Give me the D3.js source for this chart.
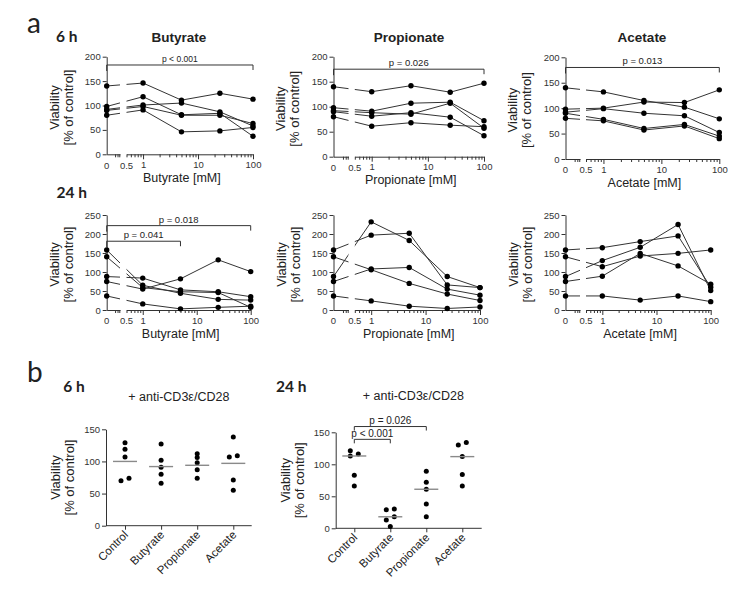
<!DOCTYPE html>
<html><head><meta charset="utf-8">
<script src="https://cdn.jsdelivr.net/npm/d3@7"></script>
<style>body{margin:0;background:#fff} svg{display:block}</style>
</head><body>
<svg id="c" width="756" height="594"></svg>
<script>
// ---------- DATA ----------
const doses = [0, 1, 5, 25, 100];
const butyrate6h   = [[140,146,111,125,113],[98,118,81,84,37],[92,101,105,87,58],[90,98,80,80,63],[80,91,46,48,55]];
const propionate6h = [[140,130,142,129,147],[98,91,107,109,72],[92,88,85,107,57],[90,81,88,79,42],[80,61,68,63,60]];
const acetate6h    = [[140,132,115,102,79],[98,100,112,111,136],[92,99,90,85,52],[90,78,60,68,45],[80,75,57,65,40]];
const butyrate24h  = [[88,84,53,48,35],[158,65,44,28,26],[140,59,48,46,7],[75,55,82,132,101],[37,16,3,7,10]];
const propionate24h= [[88,232,183,88,59],[158,197,202,66,59],[75,108,112,55,39],[140,106,70,42,25],[37,24,10,4,8]];
const acetate24h   = [[158,164,180,195,60],[140,114,142,149,158],[88,130,165,225,51],[75,89,149,116,68],[37,37,26,37,22]];
const yTicks6h = [0,50,100,150,200];
const yTicks24h = [0,50,100,150,200,250];
const xMajorTicks = [1,10,100];
const xMinorTicks = [0.5,0.6,0.7,0.8,0.9,2,3,4,5,6,7,8,9,20,30,40,50,60,70,80,90];
const compounds = ["Butyrate","Propionate","Acetate"];
const categories = ["Control","Butyrate","Propionate","Acetate"];
const stim6h  = [[129,119,107,74,70],[127,102,91,80,66],[112,106,98,87,74],[138,109,107,71,55]];
const stim24h = [[121,116,113,83,66],[30,29,18,13,3],[89,72,61,38,18],[134,130,112,84,66]];
const median6h = [100,92,94,97];
const median24h = [113,18,61,112];
const yTicksStim = [0,50,100,150];
// p-value brackets: [fromDose, toDose, level, label]
const pButyrate6h = [[0,100,183,"p < 0.001"]];
const pPropionate6h = [[0,100,175,"p = 0.026"]];
const pAcetate6h = [[0,100,180,"p = 0.013"]];
const pButyrate24h = [[0,100,222,"p = 0.018"],[0,5,181,"p = 0.041"]];
const pStim24h = [["Control","Propionate",159,"p = 0.026"],["Control","Butyrate",139,"p < 0.001"]];

// ---------- LAYOUT ----------
const FONT = "'Liberation Sans', Arial, sans-serif";
const HFONT = "Lato, 'Open Sans', sans-serif";
const INK = "#222", AX = "#333";
const cols = [
  {zero:106.7, segEnd:120, x05:126.5, cx:179},
  {zero:333.5, segEnd:348.5, x05:354.8, cx:409},
  {zero:565.5, segEnd:580, x05:586, cx:642}
];
const panels = [
  {data:butyrate6h, col:0, name:"Butyrate", x100:253, y0:154.3, yTop:56.7, ymax:200, ticks:yTicks6h, p:pButyrate6h, pfs:8.5},
  {data:propionate6h, col:1, name:"Propionate", x100:484, y0:156.7, yTop:56.7, ymax:200, ticks:yTicks6h, p:pPropionate6h, pfs:9.5},
  {data:acetate6h, col:2, name:"Acetate", x100:719.3, y0:159, yTop:57.3, ymax:200, ticks:yTicks6h, p:pAcetate6h, pfs:9.5},
  {data:butyrate24h, col:0, name:"Butyrate", x100:250.7, y0:310, yTop:215, ymax:250, ticks:yTicks24h, p:pButyrate24h, pfs:9.5},
  {data:propionate24h, col:1, name:"Propionate", x100:480, y0:310, yTop:215, ymax:250, ticks:yTicks24h, p:[], pfs:9.5},
  {data:acetate24h, col:2, name:"Acetate", x100:710.7, y0:310, yTop:215, ymax:250, ticks:yTicks24h, p:[], pfs:9.5}
];

const svg = d3.select("#c");
function txt(x, y, s, o = {}) {
  const t = svg.append("text").attr("x", x).attr("y", y).text(s)
    .attr("font-family", o.ff || FONT).attr("font-size", o.fs || 10)
    .attr("font-weight", o.fw || "normal").attr("fill", o.fill || INK)
    .attr("text-anchor", o.anchor || "start");
  if (o.rot !== undefined) t.attr("transform", `rotate(${o.rot},${x},${y})`);
  return t;
}
function styleAxis(g, fs) {
  g.selectAll("path,line").attr("stroke", AX).attr("stroke-width", 1);
  g.selectAll("text").attr("font-family", FONT).attr("font-size", fs).attr("fill", "#333");
}

// headings
txt(27, 33.3, "a", {ff:HFONT, fs:28});
txt(56, 41.7, "6 h", {ff:HFONT, fs:15.5, fw:"bold"});
txt(56.5, 198, "24 h", {ff:HFONT, fs:15.5, fw:"bold"});
compounds.forEach((c, i) => txt(cols[i].cx, 41.7, c, {fs:13.5, fw:"bold", anchor:"middle"}));

panels.forEach((p, idx) => {
  const c = cols[p.col];
  const xLog = d3.scaleLog().domain([0.5, 100]).range([c.x05, p.x100]);
  const xs = d => d === 0 ? c.zero : xLog(d);
  const y = d3.scaleLinear().domain([0, p.ymax]).range([p.y0, p.yTop]);

  // y axis
  const ya = svg.append("g").attr("transform", `translate(${c.zero},0)`)
    .call(d3.axisLeft(y).tickValues(p.ticks).tickSize(4).tickSizeOuter(0).tickPadding(2));
  styleAxis(ya, 9.5);
  // x axis: sub-0.5 segment
  const xSub = d3.scaleLog().domain([0.05, 0.45]).range([c.zero, c.segEnd]);
  const xa0 = svg.append("g").attr("transform", `translate(0,${p.y0})`)
    .call(d3.axisBottom(xSub).tickValues([0.2,0.3,0.4]).tickSize(3).tickSizeOuter(0).tickFormat(""));
  styleAxis(xa0, 9.5);
  const xa1 = svg.append("g").attr("transform", `translate(0,${p.y0})`)
    .call(d3.axisBottom(xLog).tickValues(xMinorTicks).tickSize(3).tickSizeOuter(0).tickFormat(""));
  styleAxis(xa1, 9.5);
  const xa2 = svg.append("g").attr("transform", `translate(0,${p.y0})`)
    .call(d3.axisBottom(xLog).tickValues(xMajorTicks).tickSize(5).tickPadding(2).tickFormat(d3.format("d")));
  xa2.select(".domain").remove();
  styleAxis(xa2, 9.5);
  txt(c.zero, p.y0 + 14.2, "0", {fs:9.5, anchor:"middle", fill:"#333"});
  txt(c.x05, p.y0 + 14.2, "0.5", {fs:9.5, anchor:"middle", fill:"#333"});

  // axis titles
  txt((c.zero + p.x100) / 2 + 2, p.y0 + 27.5, p.name + " [mM]", {fs:12.5, anchor:"middle"});
  const ym = (p.y0 + p.yTop) / 2 + 2;
  txt(c.zero - 48, ym, "Viability", {fs:13, anchor:"middle", rot:-90});
  txt(c.zero - 34, ym, "[% of control]", {fs:13, anchor:"middle", rot:-90});

  // clip with axis break gap
  const cid = "clip" + idx;
  const cp = svg.append("clipPath").attr("id", cid);
  cp.append("rect").attr("x", c.zero - 10).attr("y", 0).attr("width", c.segEnd - c.zero + 10).attr("height", 594);
  cp.append("rect").attr("x", c.x05).attr("y", 0).attr("width", p.x100 - c.x05 + 20).attr("height", 594);

  const line = d3.line().x((v, i) => xs(doses[i])).y(v => y(v));
  svg.append("g").attr("clip-path", `url(#${cid})`).selectAll("path").data(p.data).join("path")
    .attr("d", line).attr("fill", "none").attr("stroke", "#333").attr("stroke-width", 1);
  svg.append("g").selectAll("circle").data(p.data.flatMap(s => s.map((v, i) => [doses[i], v]))).join("circle")
    .attr("cx", d => xs(d[0])).attr("cy", d => y(d[1])).attr("r", 2.7).attr("fill", "#000");

  // brackets
  p.p.forEach(b => {
    const x1 = xs(b[0]), x2 = xs(b[1]), yy = y(b[2]);
    svg.append("path").attr("d", `M${x1},${yy + 6}V${yy}H${x2}V${yy + 5}`)
      .attr("fill", "none").attr("stroke", AX).attr("stroke-width", 1);
    txt((x1 + x2) / 2, yy - 3, b[3], {fs:p.pfs, anchor:"middle"});
  });
});

// ---------- SECTION b ----------
txt(27, 381.5, "b", {ff:HFONT, fs:28});
const stimPanels = [
  {data:stim6h, med:median6h, head:"6 h", hx:63.3, axisX:106, xEnd:251.7, c0:125, c3:233.3, y0:525.7, yTop:429.3, tx:178.8, ty:400.5, p:[]},
  {data:stim24h, med:median24h, head:"24 h", hx:276, axisX:335.7, xEnd:481.7, c0:354.3, c3:462.3, y0:528.3, yTop:432.3, tx:413.3, ty:399.5, p:pStim24h}
];
stimPanels.forEach(s => {
  txt(s.hx, 391.5, s.head, {ff:HFONT, fs:15.5, fw:"bold"});
  txt(s.tx, s.ty, "+ anti-CD3\u03b5/CD28", {fs:12.5, anchor:"middle"});
  const x = d3.scalePoint().domain(categories).range([s.c0, s.c3]);
  const y = d3.scaleLinear().domain([0, 150]).range([s.y0, s.yTop]);
  const ya = svg.append("g").attr("transform", `translate(${s.axisX},0)`)
    .call(d3.axisLeft(y).tickValues(yTicksStim).tickSize(4).tickSizeOuter(0).tickPadding(2));
  styleAxis(ya, 9.5);
  const xa = svg.append("g").attr("transform", `translate(0,${s.y0})`)
    .call(d3.axisBottom(x).tickSize(4).tickSizeOuter(0).tickFormat(""));
  xa.select(".domain").attr("d", `M${s.axisX},0H${s.xEnd}`);
  styleAxis(xa, 9.5);
  categories.forEach(cat => {
    const cx = x(cat) + 1, cy = s.y0 + 7;
    svg.append("text").text(cat).attr("transform", `translate(${cx},${cy}) rotate(-45)`)
      .attr("text-anchor", "end").attr("dy", "0.35em").attr("font-family", FONT)
      .attr("font-size", 11.5).attr("fill", INK);
  });
  const ym = (s.y0 + s.yTop) / 2;
  txt(s.axisX - 46, ym, "Viability", {fs:13, anchor:"middle", rot:-90});
  txt(s.axisX - 32, ym, "[% of control]", {fs:13, anchor:"middle", rot:-90});

  // points with simple swarm offsets
  const r = 2.5;
  s.data.forEach((vals, ci) => {
    const cat = categories[ci];
    const sorted = vals.slice().sort((a, b) => a - b);
    const groups = [];
    let cur = [];
    sorted.forEach(v => {
      if (cur.length && Math.abs(y(v) - y(cur[cur.length - 1])) < 3.6) cur.push(v);
      else { if (cur.length) groups.push(cur); cur = [v]; }
    });
    groups.push(cur);
    const pts = groups.flatMap(g => g.map((v, k) => ({v, dx: g.length > 1 ? (k % 2 ? 1 : -1) * 4 : 0})));
    svg.append("g").selectAll("circle").data(pts).join("circle")
      .attr("cx", d => x(cat) + d.dx).attr("cy", d => y(d.v)).attr("r", r).attr("fill", "#000");
    svg.append("line").attr("x1", x(cat) - 12).attr("x2", x(cat) + 12)
      .attr("y1", y(s.med[ci])).attr("y2", y(s.med[ci])).attr("stroke", "#8a8a8a").attr("stroke-width", 1.4);
  });
  s.p.forEach(b => {
    const x1 = x(b[0]), x2 = x(b[1]), yy = y(b[2]);
    svg.append("path").attr("d", `M${x1},${yy + 4}V${yy}H${x2}V${yy + 4}`)
      .attr("fill", "none").attr("stroke", AX).attr("stroke-width", 1);
    txt((x1 + x2) / 2, yy - 2.5, b[3], {fs:10, anchor:"middle"});
  });
});
</script>
</body></html>
